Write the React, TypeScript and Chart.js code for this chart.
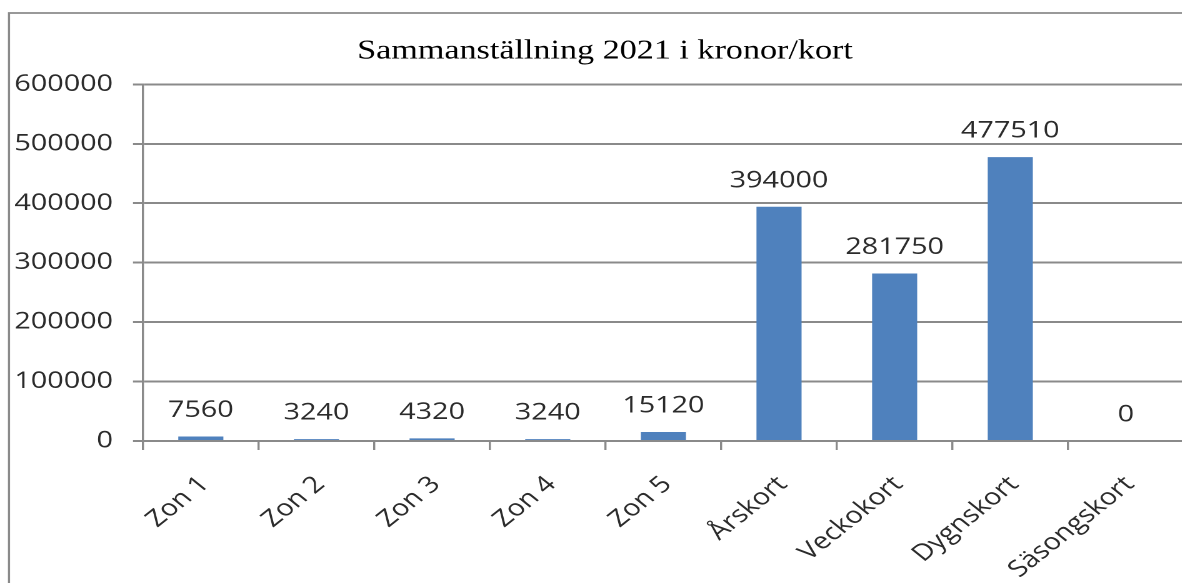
import React, { useEffect, useRef } from "react";
import { Chart, registerables } from "chart.js";

Chart.register(...registerables);

const categories = ["Zon 1", "Zon 2", "Zon 3", "Zon 4", "Zon 5", "Årskort", "Veckokort", "Dygnskort", "Säsongskort"];
const values = [7560, 3240, 4320, 3240, 15120, 394000, 281750, 477510, 0];
const titleText = "Sammanställning 2021 i kronor/kort";
const yMin = 0;
const yMax = 600000;
const yStep = 100000;

const SX = 1.25; // horizontal stretch of the reference
const CW = 968;
const CH = 583;
const RIGHT_GAP = 21;
const GRID = "#8a8a8a";
const TEXT = "#2b2b2b";
const SANS = "'Open Sans', 'Liberation Sans', sans-serif";

const framePlugin = {
  id: "frame",
  beforeDraw(chart: any) {
    const ctx = chart.ctx;
    ctx.save();
    ctx.strokeStyle = GRID;
    ctx.lineWidth = 1.7;
    ctx.beginPath();
    ctx.moveTo(9 / SX, CH + 10);
    ctx.lineTo(9 / SX, 13);
    ctx.lineTo(CW + 10, 13);
    ctx.stroke();
    ctx.restore();
  },
};

const labelPlugin = {
  id: "valueLabels",
  afterDatasetsDraw(chart: any) {
    const ctx = chart.ctx;
    const meta = chart.getDatasetMeta(0);
    ctx.save();
    ctx.font = `23px ${SANS}`;
    ctx.fillStyle = TEXT;
    ctx.textAlign = "center";
    ctx.textBaseline = "middle";
    meta.data.forEach((bar: any, i: number) => {
      ctx.fillText(String(values[i]), bar.x, bar.y - 26);
    });
    ctx.restore();
  },
};

export default function App() {
  const ref = useRef<HTMLCanvasElement | null>(null);
  useEffect(() => {
    if (!ref.current) return;
    const chart = new Chart(ref.current, {
      type: "bar",
      data: {
        labels: categories,
        datasets: [
          {
            data: values,
            backgroundColor: "#4F81BD",
            borderWidth: 0,
            categoryPercentage: 1,
            barPercentage: 0.39,
          },
        ],
      },
      options: {
        animation: false,
        responsive: false,
        devicePixelRatio: 2,
        layout: { padding: 0 },
        plugins: {
          legend: { display: false },
          tooltip: { enabled: false },
          title: {
            display: true,
            text: titleText,
            color: "#000",
            font: { family: "'Liberation Serif', 'Times New Roman', serif", size: 27.3, weight: "normal" },
            padding: { top: 35, bottom: 16.6 },
          },
        },
        scales: {
          x: {
            grid: { display: true, drawOnChartArea: false, drawTicks: true, tickLength: 9, color: GRID, lineWidth: 1.7, offset: true },
            border: { display: true, color: GRID, width: 2 },
            ticks: {
              color: TEXT,
              font: { family: SANS, size: 23 },
              minRotation: 45,
              maxRotation: 45,
              padding: 21,
              labelOffset: 3,
              autoSkip: false,
            },
            afterFit: (scale: any) => {
              scale.height = CH - 441;
            },
          },
          y: {
            min: yMin,
            max: yMax,
            grid: { color: GRID, lineWidth: 2, tickLength: 8, drawTicks: true },
            border: { display: true, color: GRID, width: 1.7 },
            ticks: {
              stepSize: yStep,
              color: TEXT,
              font: { family: SANS, size: 23 },
              padding: 16,
              callback: (v: any) => String(v),
            },
            afterFit: (scale: any) => {
              scale.width = 143 / SX;
            },
          },
          yRightGap: {
            type: "linear",
            position: "right",
            display: true,
            grid: { display: false, drawTicks: false },
            border: { display: false },
            ticks: { display: false },
            afterFit: (scale: any) => {
              scale.width = RIGHT_GAP;
            },
          },
        },
      },
      plugins: [framePlugin, labelPlugin],
    });
    return () => chart.destroy();
  }, []);

  return (
    <div style={{ position: "absolute", left: 0, top: 0, width: 1182, height: 583, overflow: "hidden", background: "#fff" }}>
      <div style={{ width: CW, height: CH, transform: `scaleX(${SX})`, transformOrigin: "0 0" }}>
        <canvas ref={ref} width={CW} height={CH} style={{ display: "block" }} />
      </div>
    </div>
  );
}
